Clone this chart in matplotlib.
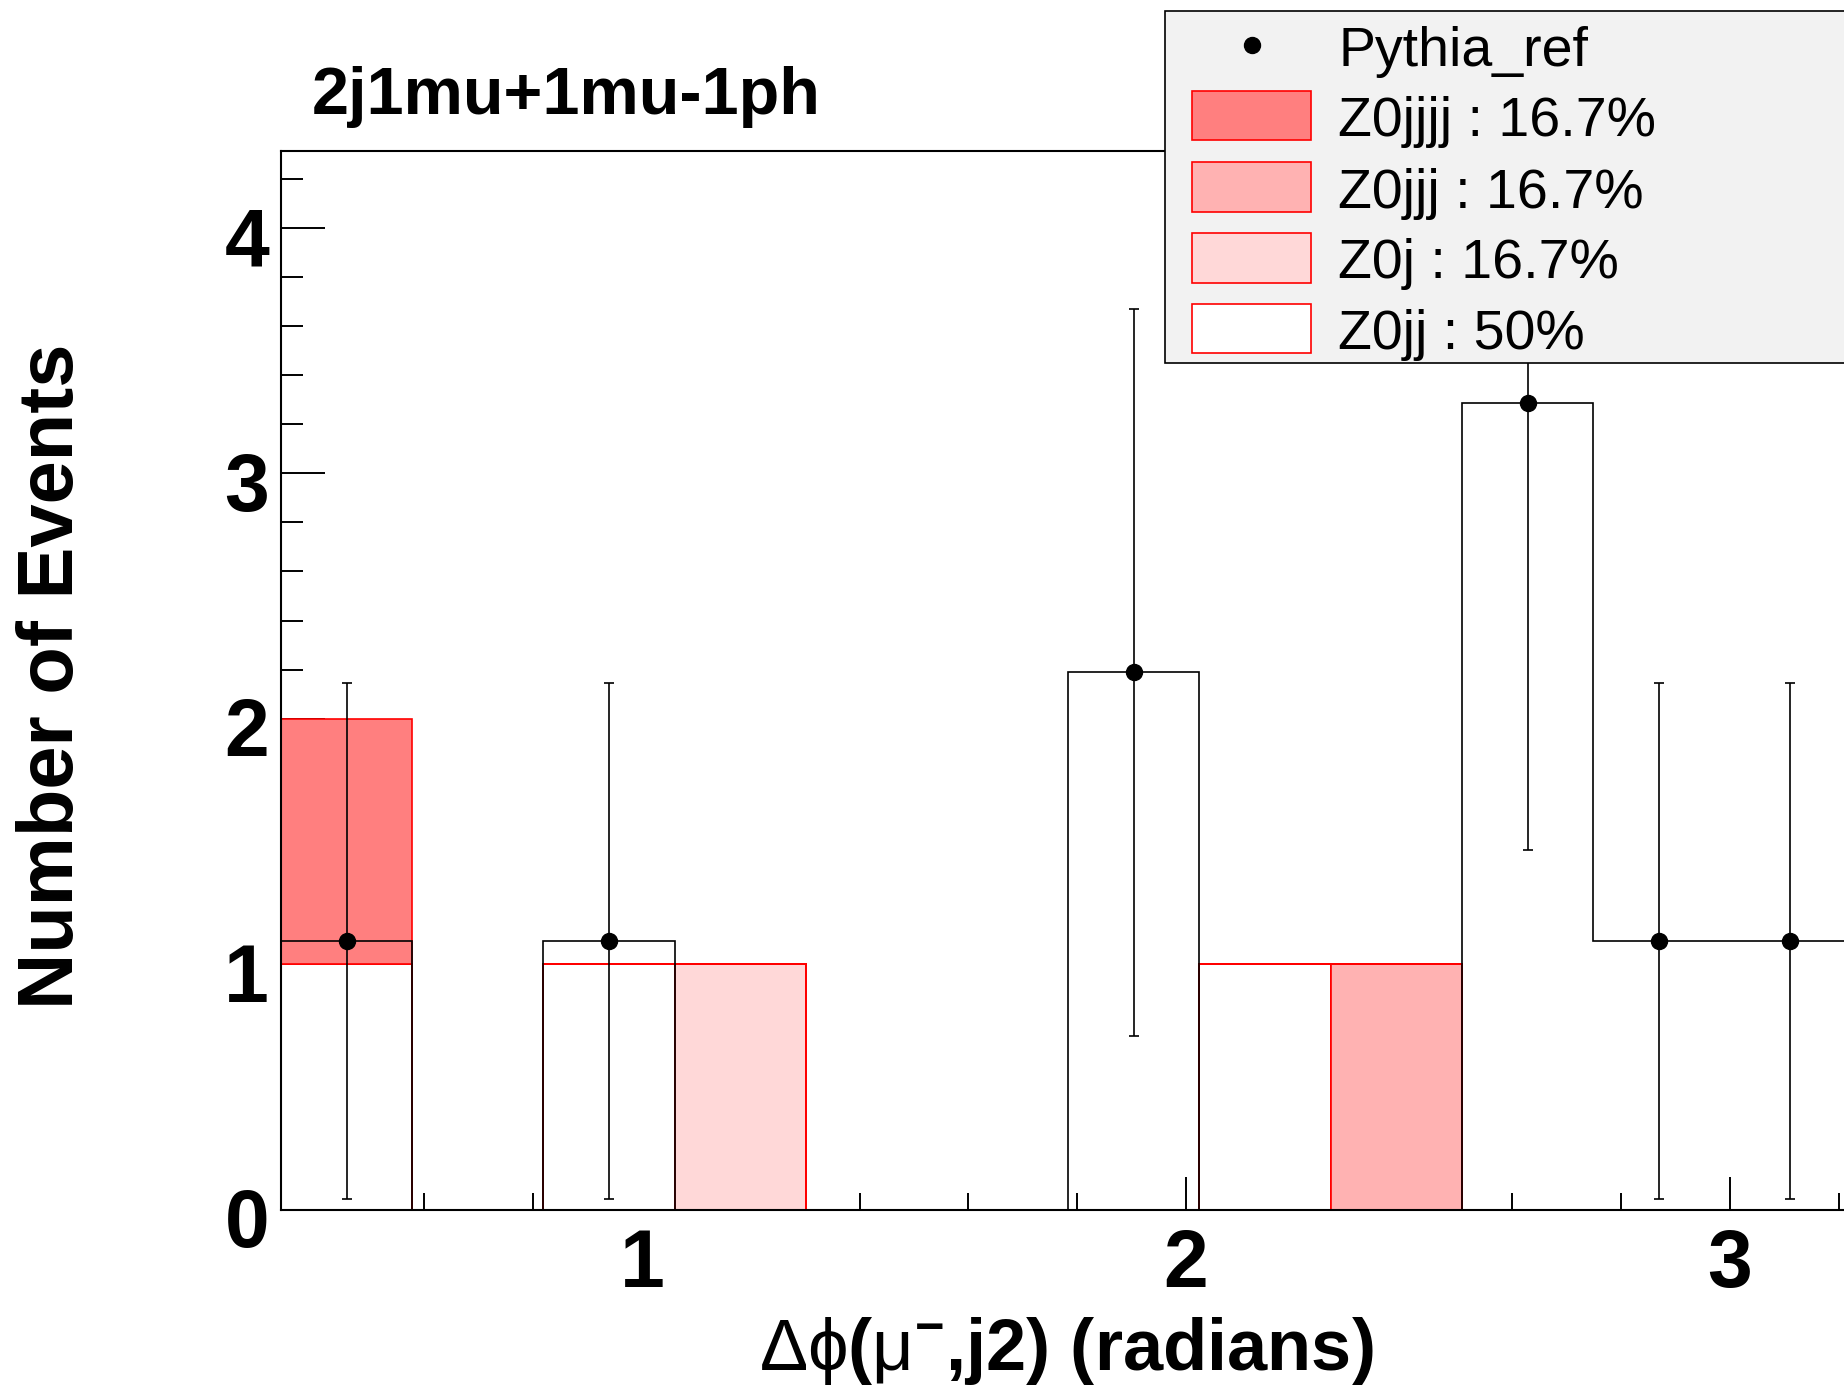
import numpy as np
import matplotlib
matplotlib.use('Agg')
import matplotlib.pyplot as plt
from matplotlib.patches import Rectangle
from matplotlib.lines import Line2D
from matplotlib.ticker import MultipleLocator, FixedLocator
from matplotlib.transforms import ScaledTranslation

plt.rcParams['font.family'] = ['Liberation Sans', 'DejaVu Sans']
plt.rcParams['mathtext.fontset'] = 'custom'
plt.rcParams['mathtext.rm'] = 'Liberation Sans'
plt.rcParams['mathtext.bf'] = 'Liberation Sans:bold'
plt.rcParams['mathtext.it'] = 'Liberation Sans:italic'
plt.rcParams['mathtext.sf'] = 'Liberation Sans'

# ---------------- data ----------------
title = "2j1mu+1mu-1ph"
xlabel = r'$\mathrm{\Delta\phi}\mathbf{(}\mathrm{\mu}^{\mathbf{-}}\mathbf{{,}j2)\ (radians)}$'
ylabel = "Number of Events"

bin_edges = [0.3364, 0.5776, 0.8188, 1.0600, 1.3012, 1.5424, 1.7836,
             2.0248, 2.2660, 2.5072, 2.7484, 2.9896, 3.2308]

# stacked MC samples (bottom -> top)
z0jj   = [1, 0, 1, 0, 0, 0, 0, 1, 0, 0, 0, 0]
z0j    = [0, 0, 0, 1, 0, 0, 0, 0, 0, 0, 0, 0]
z0jjj  = [0, 0, 0, 0, 0, 0, 0, 0, 1, 0, 0, 0]
z0jjjj = [1, 0, 0, 0, 0, 0, 0, 0, 0, 0, 0, 0]
stack_series = [z0jj, z0j, z0jjj, z0jjjj]
stack_labels = ["Z0jj : 50%", "Z0j : 16.7%", "Z0jjj : 16.7%", "Z0jjjj : 16.7%"]
stack_colors = ["#ffffff", "#ffd8d8", "#ffb2b2", "#ff7f7f"]

# reference
pythia     = [1.095, 0, 1.095, 0, 0, 0, 2.19, 0, 0, 3.285, 1.095, 1.095]
pythia_err = [1.05, 0, 1.05, 0, 0, 0, 1.48, 0, 0, 1.82, 1.05, 1.05]
pythia_label = "Pythia_ref"

xticks = [1, 2, 3]
yticks = [0, 1, 2, 3, 4]
ymax = 4.312

# ---------------- figure ----------------
W, H = 1844, 1392
fig = plt.figure(figsize=(W / 100, H / 100), dpi=100)
fig.patch.set_facecolor('white')

def fx(px):
    return px / W

def fy(py):
    return 1 - py / H

edges = np.array(bin_edges)
px_per_unit = 544.0
ax_left, ax_bottom_px, ax_top_px = 281, 1210, 151
ax_w = (edges[-1] - edges[0]) * px_per_unit
ax = fig.add_axes([fx(ax_left), fy(ax_bottom_px), ax_w / W, (ax_bottom_px - ax_top_px) / H])
ax.set_xlim(edges[0], edges[-1])
ax.set_ylim(0, ymax)
ax.set_facecolor('white')

# stacked histograms
base = np.zeros(len(edges) - 1)
for vals, col in zip(stack_series, stack_colors):
    top = base + np.array(vals, dtype=float)
    ax.stairs(top, edges, baseline=base, fill=True, facecolor=col,
              edgecolor='red', linewidth=1.2, zorder=2)
    base = top

# reference histogram outline + points
pv = np.array(pythia, dtype=float)
pe = np.array(pythia_err, dtype=float)
ax.stairs(pv, edges, color='black', linewidth=1.2, zorder=3)
centers = 0.5 * (edges[:-1] + edges[1:])
m = pv > 0
ax.errorbar(centers[m], pv[m], yerr=pe[m], fmt='o', color='black',
            markersize=11.5, elinewidth=1.2, capsize=3.6, capthick=1.2, zorder=4,
            clip_on=True)

# axes style
for s in ['left', 'bottom', 'top']:
    ax.spines[s].set_linewidth(1.5)
    ax.spines[s].set_color('black')
ax.spines['right'].set_visible(False)
ax.spines['left'].set_zorder(5)

ax.xaxis.set_major_locator(FixedLocator(xticks))
ax.xaxis.set_minor_locator(MultipleLocator(0.2))
ax.yaxis.set_major_locator(FixedLocator(yticks))
ax.yaxis.set_minor_locator(MultipleLocator(0.2))
ax.set_xticklabels([str(t) for t in xticks])
ax.set_yticklabels([str(t) for t in yticks])

ax.tick_params(axis='both', which='both', direction='in', top=False, right=False,
               width=1.4, colors='black')
ax.tick_params(axis='x', which='major', length=24, pad=13, labelsize=58)
ax.tick_params(axis='x', which='minor', length=12)
ax.tick_params(axis='y', which='major', length=32, pad=8.6, labelsize=58)
ax.tick_params(axis='y', which='minor', length=16)
for lab in ax.get_xticklabels() + ax.get_yticklabels():
    lab.set_fontweight('bold')
off = ScaledTranslation(0, -8 / 100, fig.dpi_scale_trans)
for lab in ax.get_yticklabels():
    lab.set_transform(lab.get_transform() + off)

# titles
fig.text(fx(312), fy(114), title, fontsize=48, fontweight='bold',
         ha='left', va='baseline')
fig.text(fx(53), fy(676), ylabel, fontsize=56, fontweight='bold',
         rotation=90, ha='center', va='center')
fig.text(fx(1066), fy(1370), xlabel, fontsize=52, ha='center', va='baseline')

# legend (manual, ROOT-like)
leg_left, leg_top, leg_bottom = 1165, 10.6, 363
frame = Rectangle((fx(leg_left), fy(leg_bottom)), fx(W + 100) - fx(leg_left),
                  fy(leg_top) - fy(leg_bottom), transform=fig.transFigure,
                  facecolor='#f2f2f2', edgecolor='black', linewidth=1.2,
                  zorder=10, clip_on=False)
fig.add_artist(frame)

row_y = [45, 115.2, 187, 258, 328.7]
box_l, box_r, box_h = 1192, 1311, 49
text_x = 1338
legend_fs = 40
cap_half = 20.5

# Pythia entry
fig.add_artist(Line2D([fx((box_l + box_r) / 2)], [fy(row_y[0])], marker='o',
                      color='black', markersize=11.5, linestyle='none',
                      transform=fig.transFigure, zorder=11))
fig.text(fx(text_x), fy(row_y[0] + cap_half), pythia_label, fontsize=legend_fs,
         ha='left', va='baseline', zorder=11)

for i, (lab, col) in enumerate(zip(stack_labels[::-1], stack_colors[::-1])):
    yc = row_y[i + 1]
    r = Rectangle((fx(box_l), fy(yc + box_h / 2)), fx(box_r) - fx(box_l),
                  fy(yc - box_h / 2) - fy(yc + box_h / 2), transform=fig.transFigure,
                  facecolor=col, edgecolor='red', linewidth=1.2, zorder=11)
    fig.add_artist(r)
    fig.text(fx(text_x), fy(yc + cap_half), lab, fontsize=legend_fs,
             ha='left', va='baseline', zorder=11)

fig.savefig('out.png', dpi=100)
